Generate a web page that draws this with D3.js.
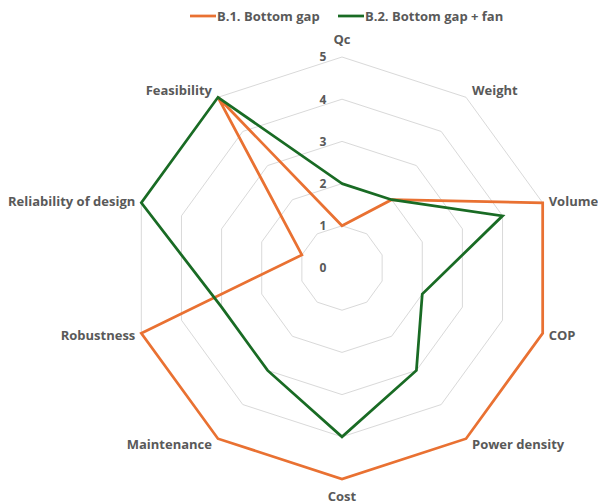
<!DOCTYPE html>
<html>
<head>
<meta charset="utf-8">
<script src="https://cdn.jsdelivr.net/npm/d3@7"></script>
<style>
  html, body { margin: 0; padding: 0; background: #fff; }
  svg { display: block; }
  text { font-family: "Open Sans", "Noto Sans", sans-serif; font-weight: 700; fill: #595959; }
</style>
</head>
<body>
<svg id="chart" width="598" height="504"></svg>
<script>
// Criteria around the radar, clockwise from the top
const axes = ["Qc", "Weight", "Volume", "COP", "Power density", "Cost",
              "Maintenance", "Robustness", "Reliability of design", "Feasibility"];
const seriesNames = ["B.1. Bottom gap", "B.2. Bottom gap + fan"];
const bottomGap = [1, 2, 5, 5, 5, 5, 5, 5, 1, 5];
const bottomGapFan = [2, 2, 4, 2, 3, 4, 3, 3, 5, 5];
const tickValues = [0, 1, 2, 3, 4, 5];
const colors = ["#E97132", "#196B24"];

const svg = d3.select("#chart");
const cx = 342, cy = 268, R = 211;

const r = d3.scaleLinear().domain([0, 5]).range([0, R]);
const angle = d3.scalePoint().domain(axes).range([0, 2 * Math.PI * (axes.length - 1) / axes.length]);

const pt = (name, v) => {
  const a = angle(name);
  return [cx + r(v) * Math.sin(a), cy - r(v) * Math.cos(a)];
};

// Concentric decagon rings
const ring = d3.line().curve(d3.curveLinearClosed);
svg.append("g").selectAll("path")
  .data(tickValues.filter(t => t > 0))
  .join("path")
  .attr("d", t => ring(axes.map(a => pt(a, t))))
  .attr("fill", "none")
  .attr("stroke", "#d9d9d9")
  .attr("stroke-width", 1);

// Value labels up the top spoke
svg.append("g").selectAll("text")
  .data(tickValues)
  .join("text")
  .attr("x", cx - 19)
  .attr("y", t => cy - r(t))
  .attr("dy", "0.36em")
  .attr("text-anchor", "middle")
  .attr("font-size", 12)
  .text(d => d);

// Series outlines
const seriesData = [bottomGap, bottomGapFan];
svg.append("g").selectAll("path")
  .data(seriesData)
  .join("path")
  .attr("d", vals => ring(axes.map((a, i) => pt(a, vals[i]))))
  .attr("fill", "none")
  .attr("stroke", (d, i) => colors[i])
  .attr("stroke-width", 2.75)
  .attr("stroke-linejoin", "miter");

// Axis names just outside the outer ring
const labelG = svg.append("g");
axes.forEach(name => {
  const a = angle(name);
  const s = Math.sin(a), c = Math.cos(a);
  const vx = cx + R * s, vy = cy - R * c;
  let x = vx, y, anchor = "middle";
  if (s > 0.1) { anchor = "start"; x = vx + 6; }
  else if (s < -0.1) { anchor = "end"; x = vx - 6; }
  if (c > 0.99) y = vy - 18;
  else if (c < -0.99) y = vy + 17;
  else if (c > 0.5) y = vy - 7;
  else if (c > 0) y = vy - 1;
  else if (c > -0.5) y = vy + 2;
  else y = vy + 6;
  labelG.append("text")
    .attr("x", x)
    .attr("y", y)
    .attr("dy", "0.36em")
    .attr("text-anchor", anchor)
    .attr("font-size", 13)
    .text(name);
});

// Legend
const legend = svg.append("g");
const legendItems = [
  { name: seriesNames[0], x: 190, color: colors[0] },
  { name: seriesNames[1], x: 338, color: colors[1] }
];
legendItems.forEach(item => {
  legend.append("line")
    .attr("x1", item.x).attr("x2", item.x + 26)
    .attr("y1", 16).attr("y2", 16)
    .attr("stroke", item.color).attr("stroke-width", 2.75);
  legend.append("text")
    .attr("x", item.x + 27)
    .attr("y", 16)
    .attr("dy", "0.36em")
    .attr("font-size", 13)
    .text(item.name);
});
</script>
</body>
</html>
